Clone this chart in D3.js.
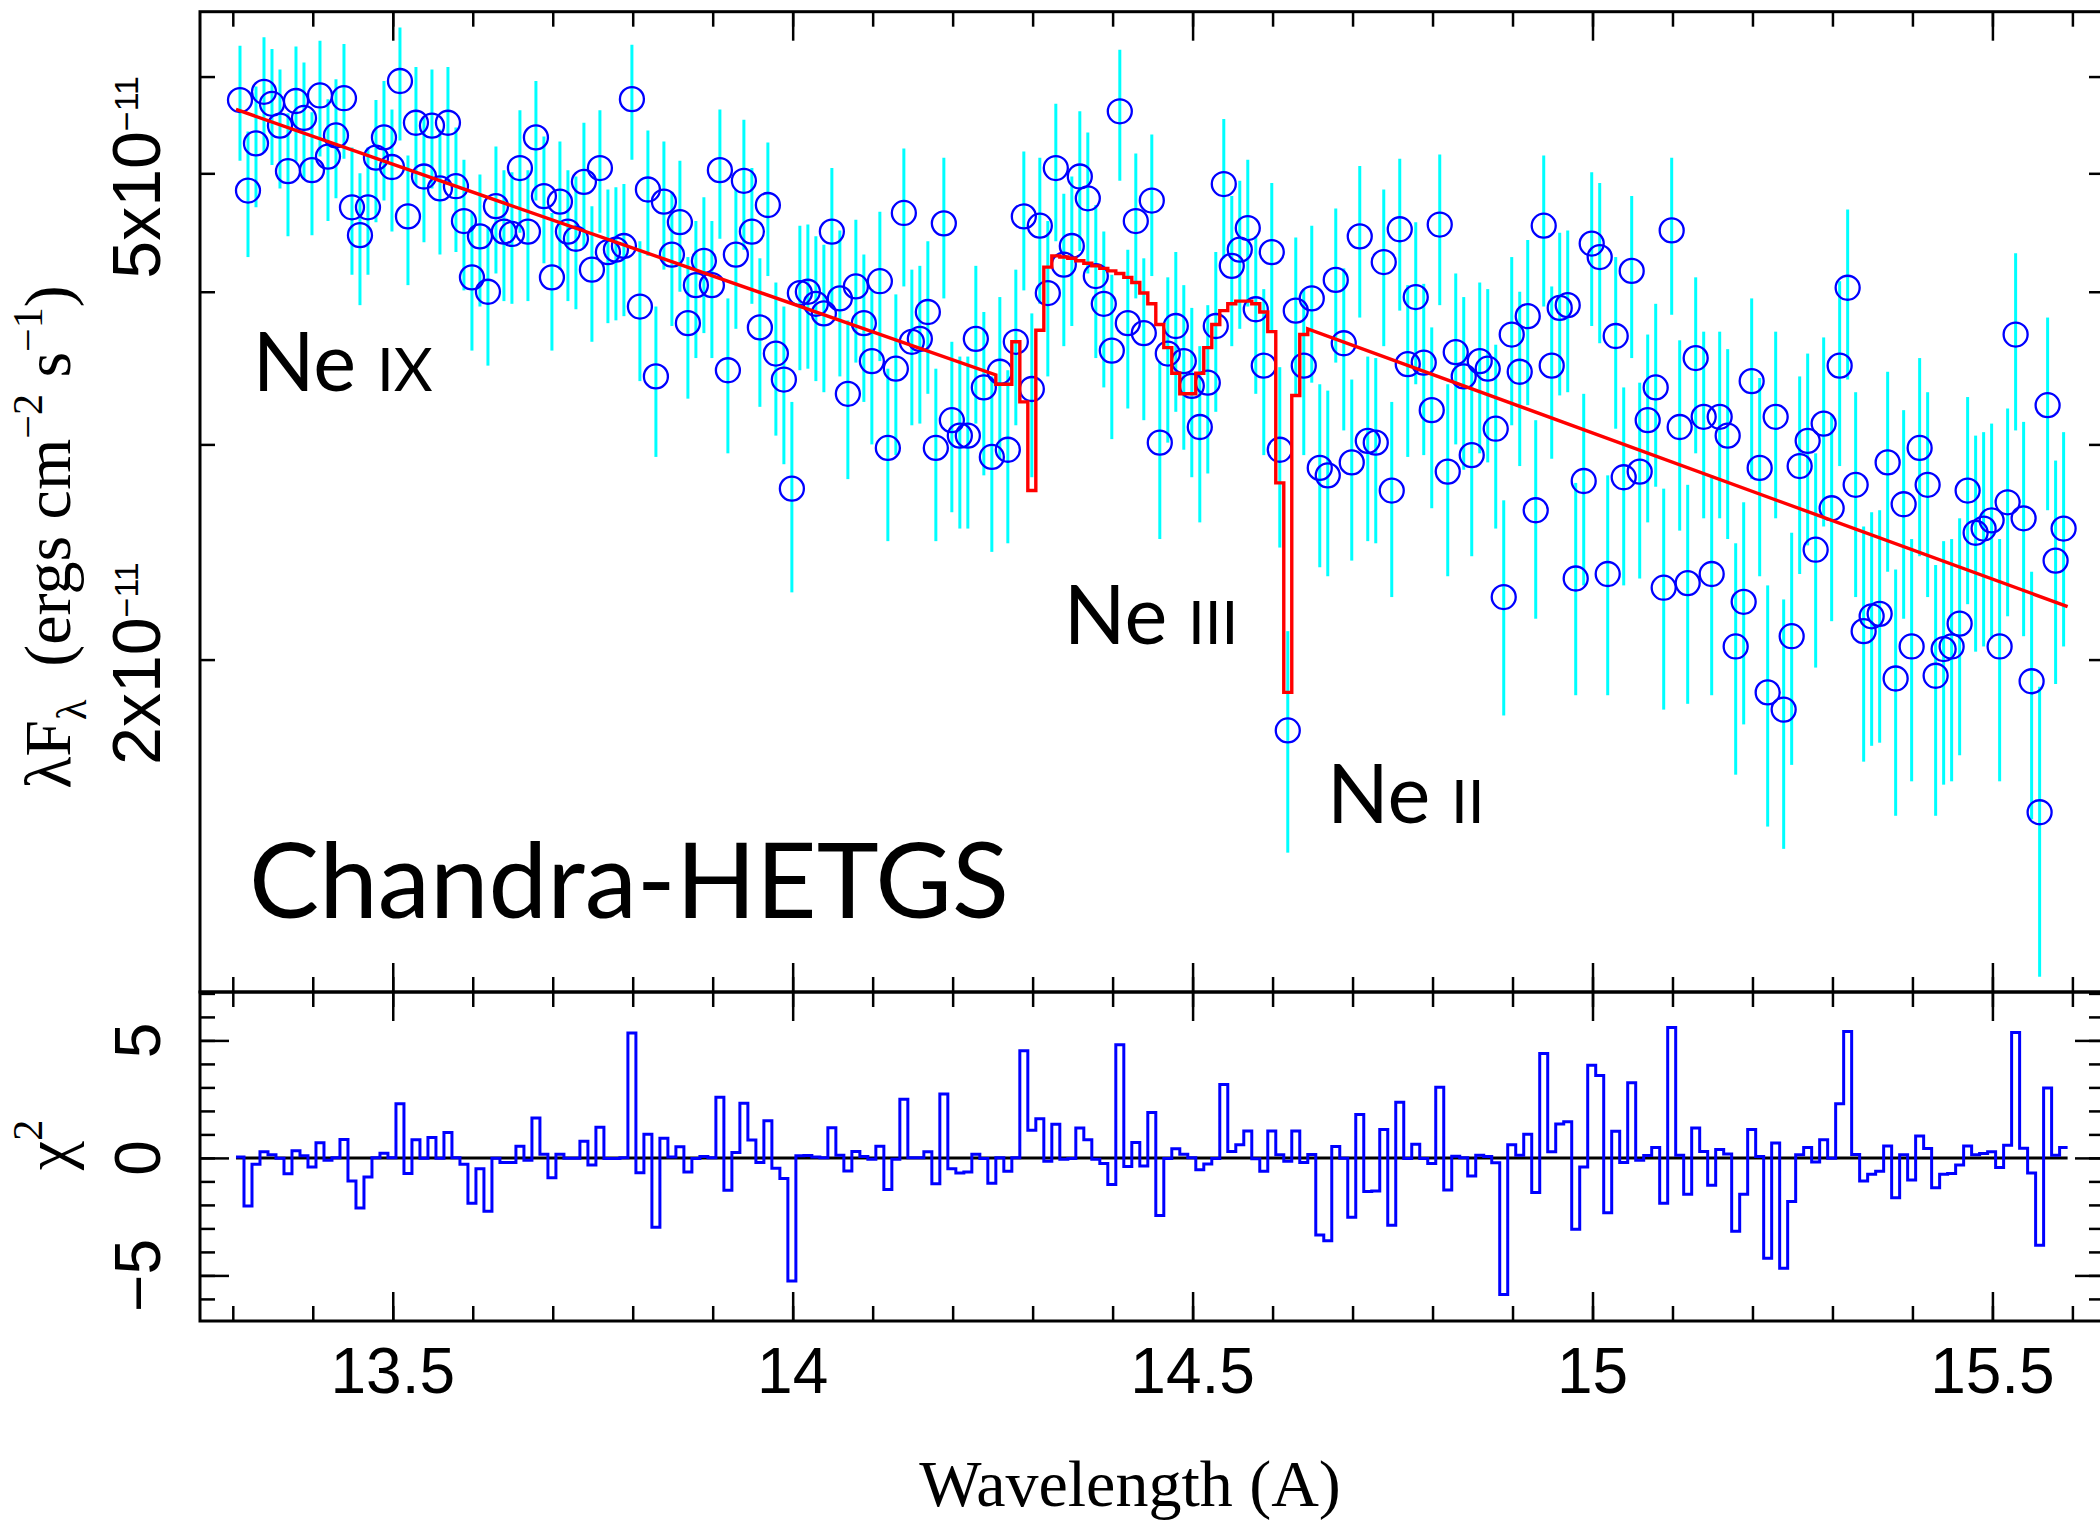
<!DOCTYPE html>
<html><head><meta charset="utf-8">
<script src="https://cdn.jsdelivr.net/npm/d3@7"></script>
<style>body{margin:0;background:#fff}</style>
</head><body>
<svg id="c" width="2100" height="1525" xmlns="http://www.w3.org/2000/svg"></svg>
<script>
// ---------------- DATA ----------------
// bin grid (Angstrom)
const firstBinEdge = 13.304;
const binWidth = 0.01;
// observed lambda F_lambda, units of 1e-11 ergs cm^-2 s^-1 (bins 0..228)
const flux = [
5.74,4.84,5.29,5.83,5.70,5.47,5.02,5.73,5.55,5.03,
5.79,5.16,5.37,5.76,4.69,4.45,4.69,5.15,5.35,5.06,
5.95,4.61,5.50,4.97,5.47,4.86,5.50,4.88,4.57,4.11,
4.44,4.00,4.70,4.48,4.46,5.05,4.48,5.35,4.79,4.11,
4.74,4.48,4.42,4.92,4.17,5.05,4.31,4.33,4.36,5.75,
3.89,4.85,3.41,4.74,4.29,4.56,3.77,4.05,4.24,4.05,
5.03,3.45,4.29,4.93,4.48,3.74,4.71,3.56,3.39,2.76,
3.99,4.00,3.91,3.84,4.48,3.95,3.30,4.04,3.77,3.51,
4.08,2.98,3.46,4.64,3.64,3.66,3.85,2.98,4.55,3.14,
3.05,3.05,3.66,3.34,2.93,3.44,2.97,3.64,4.61,3.33,
4.53,3.99,5.05,4.21,4.36,4.97,4.77,4.12,3.91,3.58,
5.62,3.77,4.57,3.70,4.75,3.01,3.56,3.75,3.51,3.35,
3.10,3.37,3.75,4.90,4.20,4.33,4.51,3.87,3.48,4.31,
2.97,1.75,3.86,3.48,3.95,2.87,2.83,4.09,3.63,2.90,
4.44,3.02,3.01,4.23,2.75,4.50,3.49,3.96,3.50,3.20,
4.54,2.85,3.57,3.41,2.94,3.51,3.46,3.09,2.25,3.69,
3.44,3.82,2.65,4.53,3.48,3.88,3.90,2.33,2.80,4.38,
4.27,2.35,3.68,2.82,4.16,2.85,3.14,3.34,2.29,4.49,
3.10,2.31,3.53,3.16,2.35,3.16,3.05,2.05,2.23,3.38,
2.87,1.88,3.16,1.82,2.09,2.88,3.02,2.46,3.12,2.66,
3.48,4.03,2.78,2.11,2.17,2.18,2.90,1.93,2.68,2.05,
2.98,2.78,1.94,2.04,2.05,2.14,2.75,2.54,2.56,2.60,
2.05,2.69,3.69,2.61,1.92,1.50,3.23,2.41,2.56];
// 1-sigma errors, same units
const fluxErr = [
0.62,0.57,0.60,0.63,0.62,0.61,0.58,0.62,0.61,0.58,
0.63,0.59,0.60,0.62,0.56,0.55,0.56,0.59,0.60,0.58,
0.63,0.56,0.61,0.58,0.61,0.57,0.61,0.57,0.56,0.53,
0.55,0.52,0.56,0.55,0.55,0.58,0.55,0.60,0.57,0.53,
0.57,0.55,0.55,0.58,0.53,0.58,0.54,0.54,0.54,0.62,
0.51,0.57,0.48,0.57,0.54,0.56,0.50,0.52,0.54,0.52,
0.61,0.50,0.56,0.60,0.57,0.52,0.59,0.51,0.50,0.49,
0.54,0.54,0.53,0.53,0.57,0.54,0.49,0.54,0.52,0.51,
0.57,0.48,0.52,0.60,0.53,0.54,0.55,0.48,0.60,0.50,
0.49,0.49,0.54,0.51,0.48,0.52,0.48,0.53,0.60,0.51,
0.62,0.58,0.65,0.60,0.61,0.65,0.63,0.59,0.57,0.55,
0.69,0.56,0.62,0.56,0.63,0.50,0.55,0.56,0.54,0.53,
0.51,0.53,0.56,0.64,0.59,0.60,0.62,0.57,0.54,0.60,
0.50,0.36,0.57,0.54,0.58,0.49,0.49,0.59,0.55,0.49,
0.63,0.52,0.52,0.62,0.50,0.64,0.56,0.60,0.56,0.54,
0.64,0.51,0.57,0.55,0.51,0.56,0.56,0.53,0.45,0.58,
0.56,0.59,0.49,0.64,0.56,0.59,0.59,0.46,0.50,0.63,
0.64,0.48,0.59,0.52,0.63,0.52,0.55,0.57,0.47,0.66,
0.55,0.47,0.58,0.55,0.48,0.55,0.54,0.44,0.46,0.57,
0.53,0.42,0.55,0.42,0.45,0.53,0.54,0.49,0.55,0.51,
0.60,0.64,0.53,0.46,0.47,0.47,0.54,0.44,0.52,0.46,
0.55,0.53,0.45,0.46,0.46,0.47,0.53,0.51,0.51,0.52,
0.46,0.52,0.61,0.52,0.44,0.40,0.58,0.50,0.51];
// residuals (sign * chi^2 contribution), bins 0..228
const chi = [
0.04,-2.05,-0.27,0.26,0.13,-0.01,-0.67,0.30,0.09,-0.39,
0.64,-0.10,0.01,0.78,-0.98,-2.13,-0.81,0.01,0.20,0.01,
2.30,-0.66,0.77,-0.01,0.87,-0.01,1.08,0.01,-0.27,-1.93,
-0.46,-2.27,-0.01,-0.19,-0.19,0.50,-0.10,1.70,0.16,-0.84,
0.16,-0.01,-0.01,0.71,-0.30,1.30,-0.03,-0.03,0.01,5.32,
-0.63,1.01,-2.95,0.84,0.04,0.47,-0.60,-0.03,0.06,0.01,
2.58,-1.38,0.23,2.33,0.76,-0.19,1.58,-0.44,-0.88,-5.24,
0.09,0.10,0.04,0.01,1.28,0.11,-0.56,0.27,0.06,-0.06,
0.50,-1.34,-0.06,2.50,0.01,0.01,0.26,-1.10,2.72,-0.46,
-0.64,-0.60,0.16,-0.03,-1.08,0.01,-0.57,0.01,4.56,1.18,
1.67,-0.14,1.43,-0.06,-0.03,1.27,0.77,-0.06,-0.24,-1.13,
4.82,-0.37,0.66,-0.34,1.93,-2.45,-0.03,0.39,0.16,0.01,
-0.50,-0.26,-0.03,3.12,0.27,0.56,1.14,-0.04,-0.57,1.14,
0.13,-0.14,1.14,-0.20,0.14,-3.28,-3.52,0.49,-0.01,-2.52,
1.85,-1.43,-1.41,1.21,-2.87,2.37,-0.03,0.58,-0.03,-0.24,
3.01,-1.37,0.07,0.01,-0.77,0.11,0.06,-0.21,-5.81,0.56,
0.11,1.01,-1.47,4.44,0.26,1.44,1.54,-3.04,-0.39,3.94,
3.51,-2.33,1.13,-0.20,3.20,-0.10,0.10,0.44,-1.93,5.55,
0.11,-1.55,1.27,0.27,-1.16,0.36,0.17,-3.12,-1.55,1.21,
0.06,-4.27,0.63,-4.69,-1.85,0.13,0.44,-0.17,0.77,-0.01,
2.30,5.38,0.14,-0.98,-0.70,-0.57,0.51,-1.70,0.13,-0.94,
0.93,0.40,-1.27,-0.70,-0.66,-0.30,0.51,0.13,0.19,0.26,
-0.41,0.54,5.34,0.41,-0.64,-3.72,2.98,0.11,0.44];
// model: continuum segment A, stepped absorption region, continuum segment B
const modelContA = [[13.304, 5.64], [14.254, 3.42]];
const modelStepStart = 14.254;
const modelSteps = [3.36,3.36,3.64,3.25,2.75,3.72,4.19,4.28,4.27,4.26,4.24,4.22,4.20,4.18,4.16,4.14,4.11,4.07,3.99,3.91,
                    3.76,3.60,3.43,3.30,3.30,3.43,3.60,3.76,3.86,3.91,3.93,3.93,3.91,3.85,3.71,2.79,1.88,3.29,3.69];
const modelContB = [[14.644, 3.73], [15.594, 2.21]];
// axes
const xMinorTicks = d3.range(133, 157).map(v => v / 10);
const xMajorTicks = [13.5, 14, 14.5, 15, 15.5];
const xTickLabels = ["13.5", "14", "14.5", "15", "15.5"];
const yTicks = [2, 3, 4, 5, 6];
const yLabelTicks = [2, 5];
const chiMinorTicks = d3.range(-6, 8);
const chiMajorTicks = [-5, 0, 5];
const chiTickLabels = ["\u22125", "0", "5"];
// annotation anchors (wavelength, flux at text baseline)
const lineLabels = [
  {main: "Ne ", roman: "IX",  wave: 13.325, flux: 3.32},
  {main: "Ne ", roman: "III", wave: 14.339, flux: 2.06},
  {main: "Ne ", roman: "II",  wave: 14.668, flux: 1.47}
];

// ---------------- LAYOUT ----------------
const L = 200, R = 2104, T = 11.7, B1 = 992, B2 = 1321;
const svg = d3.select('#c');
const x = d3.scaleLinear().domain([13.259, 15.6395]).range([L, R]);
const y = d3.scaleLog().domain([1.069, 6.78]).range([B1, T]);
const yc = d3.scaleLinear().domain([-6.94, 7.06]).range([B2, B1]);

const centers = flux.map((_, i) => firstBinEdge + binWidth * (i + 0.5));

const defs = svg.append('defs');
defs.append('clipPath').attr('id', 'clipMain').append('rect')
  .attr('x', L).attr('y', T).attr('width', R - L).attr('height', B1 - T);
defs.append('clipPath').attr('id', 'clipChi').append('rect')
  .attr('x', L).attr('y', B1).attr('width', R - L).attr('height', B2 - B1);

// ---- main panel ----
const gm = svg.append('g').attr('clip-path', 'url(#clipMain)');
gm.selectAll('line.err').data(flux).join('line').attr('class', 'err')
  .attr('x1', (d, i) => x(centers[i])).attr('x2', (d, i) => x(centers[i]))
  .attr('y1', (d, i) => y(Math.max(d - fluxErr[i], 1.0)))
  .attr('y2', (d, i) => y(d + fluxErr[i]))
  .attr('stroke', '#00ffff').attr('stroke-width', 3);
gm.selectAll('circle.pt').data(flux).join('circle').attr('class', 'pt')
  .attr('cx', (d, i) => x(centers[i])).attr('cy', d => y(d)).attr('r', 12)
  .attr('fill', 'none').attr('stroke', '#0000ff').attr('stroke-width', 2.3);

const modelPts = [];
modelContA.forEach(p => modelPts.push(p));
modelSteps.forEach((v, i) => {
  const a = modelStepStart + i * binWidth;
  modelPts.push([a, v]); modelPts.push([a + binWidth, v]);
});
modelContB.forEach(p => modelPts.push(p));
gm.append('path').datum(modelPts)
  .attr('d', d3.line().x(d => x(d[0])).y(d => y(d[1])))
  .attr('fill', 'none').attr('stroke', '#ff0000').attr('stroke-width', 3.4)
  .attr('stroke-linejoin', 'miter');

// ---- chi panel ----
const gc = svg.append('g').attr('clip-path', 'url(#clipChi)');
const lastEdge = firstBinEdge + binWidth * chi.length;
gc.append('path').datum([[firstBinEdge, 0], [lastEdge, 0]])
  .attr('d', d3.line().x(d => x(d[0])).y(d => yc(d[1])))
  .attr('stroke', '#000').attr('stroke-width', 3);
const chiPts = [];
chi.forEach((v, i) => {
  const a = firstBinEdge + i * binWidth;
  chiPts.push([a, v]); chiPts.push([a + binWidth, v]);
});
gc.append('path').datum(chiPts)
  .attr('d', d3.line().x(d => x(d[0])).y(d => yc(d[1])))
  .attr('fill', 'none').attr('stroke', '#0000ff').attr('stroke-width', 3);

// ---- axes / ticks ----
function addAxis(axis, tx, ty) {
  const g = svg.append('g').attr('transform', `translate(${tx},${ty})`).call(axis);
  g.select('.domain').remove();
  g.selectAll('text').remove();
  g.selectAll('line').attr('stroke', '#000').attr('stroke-width', 2.5);
  return g;
}
[[d3.axisBottom, B1], [d3.axisTop, T], [d3.axisTop, B1], [d3.axisBottom, B2]].forEach(([fn, ty]) => {
  addAxis(fn(x).tickValues(xMinorTicks).tickSize(-15), 0, ty);
  addAxis(fn(x).tickValues(xMajorTicks).tickSize(-29), 0, ty);
});
addAxis(d3.axisLeft(y).tickValues(yTicks).tickSize(-15), L, 0);
addAxis(d3.axisRight(y).tickValues(yTicks).tickSize(-15), R, 0);
addAxis(d3.axisLeft(yc).tickValues(chiMinorTicks).tickSize(-15), L, 0);
addAxis(d3.axisLeft(yc).tickValues(chiMajorTicks).tickSize(-29), L, 0);
addAxis(d3.axisRight(yc).tickValues(chiMinorTicks).tickSize(-15), R, 0);
addAxis(d3.axisRight(yc).tickValues(chiMajorTicks).tickSize(-29), R, 0);

[[T, B1], [B1, B2]].forEach(([a, b]) => {
  svg.append('rect').attr('x', L).attr('y', a).attr('width', R - L).attr('height', b - a)
    .attr('fill', 'none').attr('stroke', '#000').attr('stroke-width', 3);
});

// ---- tick labels ----
const sans = "'Liberation Sans', Arial, sans-serif";
const serif = "'Liberation Serif', 'Times New Roman', serif";
xMajorTicks.forEach((v, i) => {
  svg.append('text').attr('x', x(v)).attr('y', 1393).attr('text-anchor', 'middle')
    .attr('font-family', sans).attr('font-size', 64).text(xTickLabels[i]);
});
yLabelTicks.forEach(v => {
  const t = svg.append('text').attr('transform', `translate(160,${y(v) + 4}) rotate(-90)`)
    .attr('text-anchor', 'middle').attr('font-family', sans).attr('font-size', 68);
  t.append('tspan').text(`${v}x10`);
  t.append('tspan').attr('font-size', 34).attr('dy', -22).text('\u221211');
});
chiMajorTicks.forEach((v, i) => {
  svg.append('text').attr('transform', `translate(160,${yc(v)}) rotate(-90)`)
    .attr('text-anchor', 'middle').attr('font-family', sans).attr('font-size', 64)
    .text(chiTickLabels[i]);
});

// ---- axis titles ----
svg.append('text').attr('x', 1130).attr('y', 1506).attr('text-anchor', 'middle')
  .attr('font-family', serif).attr('font-size', 66).text('Wavelength (A)');
{
  const t = svg.append('text').attr('transform', 'translate(70,537) rotate(-90)')
    .attr('text-anchor', 'middle').attr('font-family', serif).attr('font-size', 66);
  t.append('tspan').text('\u03bbF');
  t.append('tspan').attr('font-size', 42).attr('dy', 16).text('\u03bb');
  t.append('tspan').attr('dy', -16).text('\u2002(ergs cm');
  t.append('tspan').attr('font-size', 42).attr('dy', -28).text('\u22122');
  t.append('tspan').attr('dy', 28).text(' s');
  t.append('tspan').attr('font-size', 42).attr('dy', -28).text('\u22121');
  t.append('tspan').attr('dy', 28).text(')');
}
{
  const t = svg.append('text').attr('transform', 'translate(70,1145) rotate(-90)')
    .attr('text-anchor', 'middle').attr('font-family', serif).attr('font-size', 66);
  t.append('tspan').text('\u03c7');
  t.append('tspan').attr('font-size', 42).attr('dy', -28).text('2');
}

// ---- annotations ----
const human = "Lato, 'Open Sans', sans-serif";
lineLabels.forEach(d => {
  const t = svg.append('text').attr('x', x(d.wave)).attr('y', y(d.flux))
    .attr('font-family', human).attr('font-size', 81).attr('fill', '#000');
  t.append('tspan').text(d.main);
  t.append('tspan').attr('font-size', 60).text(d.roman);
});
svg.append('text').attr('x', 249).attr('y', 918)
  .attr('font-family', human).attr('font-size', 105).attr('fill', '#000').text('Chandra-HETGS');
</script>
</body></html>
